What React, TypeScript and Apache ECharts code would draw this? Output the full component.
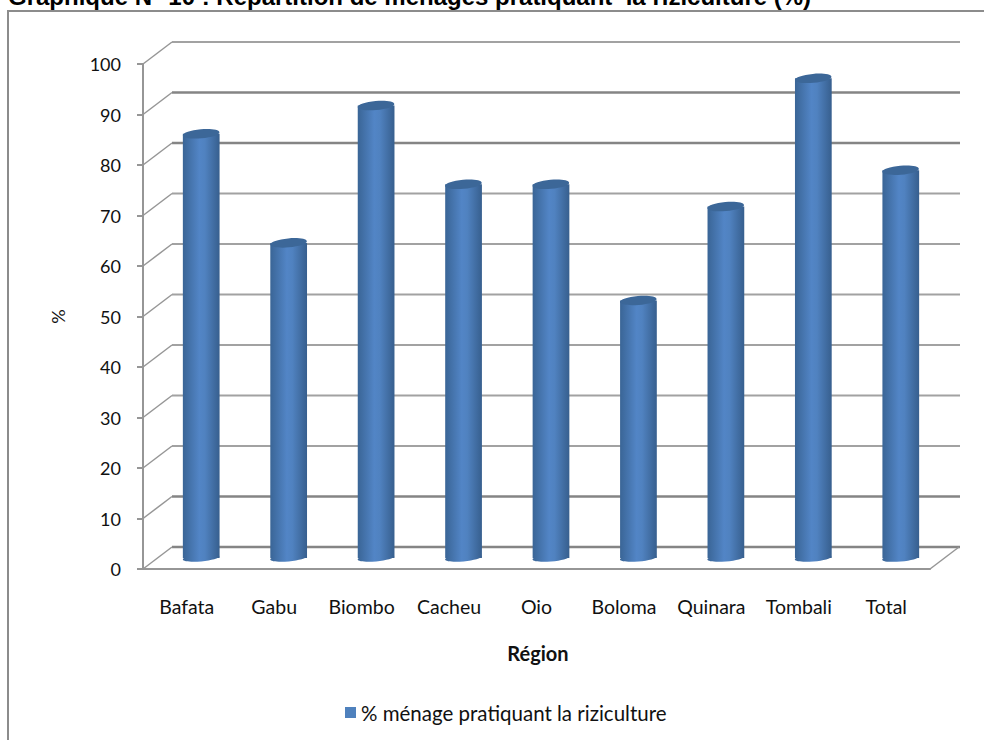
import React, { useEffect, useRef } from "react";
import * as echarts from "echarts";

const regions = ["Bafata", "Gabu", "Biombo", "Cacheu", "Oio", "Boloma", "Quinara", "Tombali", "Total"];
const riziculture = [84, 62.4, 89.6, 74, 74, 51, 69.6, 95, 76.8];
const valueTicks = [0, 10, 20, 30, 40, 50, 60, 70, 80, 90, 100];
const heavyGridTicks = [0, 10, 80, 90];
const seriesName = "% ménage pratiquant la riziculture";
const titleText = "Graphique N° 10 : Répartition de ménages pratiquant  la riziculture (%)";

const GRID = "#969696";
const LABEL_FONT = "Lato, 'Open Sans', sans-serif";
const INK = "#111111";

const barFill = new echarts.graphic.LinearGradient(0, 0, 1, 0, [
  { offset: 0, color: "#3a6596" },
  { offset: 0.45, color: "#5285c6" },
  { offset: 0.6, color: "#5082c0" },
  { offset: 1, color: "#375f8e" },
]);

export default function App() {
  const ref = useRef<HTMLDivElement>(null);
  useEffect(() => {
    document.body.style.margin = "0";
    const chart = echarts.init(ref.current!, null, { renderer: "svg" });
    const dx = 29;
    const dy = 22;
    const frontGrid = { left: 143, top: 64, width: 787, height: 505 };
    chart.setOption({
      animation: false,
      backgroundColor: "#ffffff",
      graphic: [
        { type: "line", shape: { x1: 8, y1: 11, x2: 984, y2: 11 }, style: { stroke: "#8c8c8c", lineWidth: 2 } },
        { type: "line", shape: { x1: 8, y1: 10, x2: 8, y2: 740 }, style: { stroke: "#8c8c8c", lineWidth: 2 } },
        {
          type: "text",
          x: 8,
          y: -16,
          style: { text: titleText, font: "bold 24px 'Liberation Sans', Arial, sans-serif", fill: "#000" },
        },
      ],
      legend: {
        top: 697,
        left: 340,
        itemWidth: 11,
        itemHeight: 11,
        itemGap: 6,
        icon: "rect",
        textStyle: { fontFamily: LABEL_FONT, fontSize: 20.5, color: INK },
        data: [{ name: seriesName, itemStyle: { color: "#4f81bd" } }],
      },
      grid: [
        frontGrid,
        { left: frontGrid.left + dx, top: frontGrid.top - dy, width: frontGrid.width + 1, height: frontGrid.height },
        { left: frontGrid.left + dx / 2, top: frontGrid.top - dy / 2, width: frontGrid.width, height: frontGrid.height },
      ],
      xAxis: [
        {
          gridIndex: 0,
          type: "category",
          data: regions,
          name: "Région",
          nameLocation: "middle",
          nameGap: 74,
          nameTextStyle: { fontFamily: LABEL_FONT, fontWeight: "bold", fontSize: 20, color: INK, padding: [0, 0, 0, 3] },
          axisLine: { lineStyle: { color: GRID, width: 2 } },
          axisTick: { alignWithLabel: false, length: 6, lineStyle: { color: GRID, width: 2 } },
          axisLabel: { fontFamily: LABEL_FONT, fontSize: 19.5, color: INK, margin: 27, interval: 0 },
        },
        { gridIndex: 1, type: "category", data: regions, show: false },
        { gridIndex: 2, type: "category", data: regions, show: false },
      ],
      yAxis: [
        {
          gridIndex: 0,
          type: "value",
          min: 0,
          max: 100,
          interval: 10,
          name: "%",
          nameLocation: "middle",
          nameGap: 76,
          nameRotate: 90,
          nameTextStyle: { fontFamily: LABEL_FONT, fontSize: 18, color: INK },
          axisLine: { show: true, lineStyle: { color: GRID, width: 2 } },
          axisTick: { show: true, length: 6, lineStyle: { color: GRID, width: 2 } },
          axisLabel: { fontFamily: LABEL_FONT, fontSize: 18, color: INK, margin: 22 },
          splitLine: { show: false },
        },
        { gridIndex: 1, type: "value", min: 0, max: 100, interval: 10, show: false },
        { gridIndex: 2, type: "value", min: 0, max: 100, interval: 10, show: false },
      ],
      series: [
        {
          // back wall gridlines, some heavier as in the picture
          type: "custom",
          name: "wall",
          xAxisIndex: 1,
          yAxisIndex: 1,
          silent: true,
          data: valueTicks.map((v) => [0, v]),
          renderItem: (params: any, api: any) => {
            const v = api.value(1);
            const p = api.coord([0, v]);
            const heavy = heavyGridTicks.includes(v);
            return {
              type: "line",
              shape: { x1: params.coordSys.x, y1: p[1], x2: params.coordSys.x + params.coordSys.width, y2: p[1] },
              style: { stroke: heavy ? "#858585" : "#a2a2a2", lineWidth: heavy ? 2.6 : 2 },
            };
          },
        },
        {
          // depth strokes joining the front axis ticks to the back wall
          type: "custom",
          name: "depth",
          xAxisIndex: 0,
          yAxisIndex: 0,
          silent: true,
          data: valueTicks.map((v) => [0, v]),
          renderItem: (_: any, api: any) => {
            const p = api.coord([0, api.value(1)]);
            const x0 = frontGrid.left;
            return {
              type: "line",
              shape: { x1: x0, y1: p[1], x2: x0 + dx, y2: p[1] - dy },
              style: { stroke: GRID, lineWidth: 1.5 },
            };
          },
        },
        {
          type: "custom",
          name: "floor",
          xAxisIndex: 0,
          yAxisIndex: 0,
          silent: true,
          data: [[0, 0]],
          renderItem: (_: any, api: any) => {
            const p = api.coord([0, 0]);
            const x0 = frontGrid.left + frontGrid.width;
            return {
              type: "line",
              shape: { x1: x0, y1: p[1], x2: x0 + dx, y2: p[1] - dy },
              style: { stroke: GRID, lineWidth: 1.5 },
            };
          },
        },
        {
          type: "custom",
          name: seriesName,
          xAxisIndex: 2,
          yAxisIndex: 2,
          itemStyle: { color: "#4f81bd" },
          data: riziculture.map((v, i) => [i, v]),
          encode: { x: 0, y: 1 },
          renderItem: (_: any, api: any) => {
            const top = api.coord([api.value(0), api.value(1)]);
            const base = api.coord([api.value(0), 0]);
            const w = api.size([1, 0])[0] * 0.42;
            const rx = w / 2;
            const rotation = (5 * Math.PI) / 180;
            const l = top[0] - rx;
            return {
              type: "group",
              children: [
                { type: "ellipse", shape: { cx: top[0], cy: base[1], rx, ry: 3.5 }, rotation, originX: top[0], originY: base[1], style: { fill: barFill } },
                { type: "rect", shape: { x: l, y: top[1], width: w, height: base[1] - top[1] }, style: { fill: barFill } },
                { type: "ellipse", shape: { cx: top[0], cy: top[1], rx, ry: 4.5 }, rotation, originX: top[0], originY: top[1], style: { fill: "#3c6798" } },
              ],
            };
          },
        },
      ],
    });
    return () => chart.dispose();
  }, []);
  return <div ref={ref} style={{ position: "absolute", left: 0, top: 0, width: 984, height: 740 }} />;
}
